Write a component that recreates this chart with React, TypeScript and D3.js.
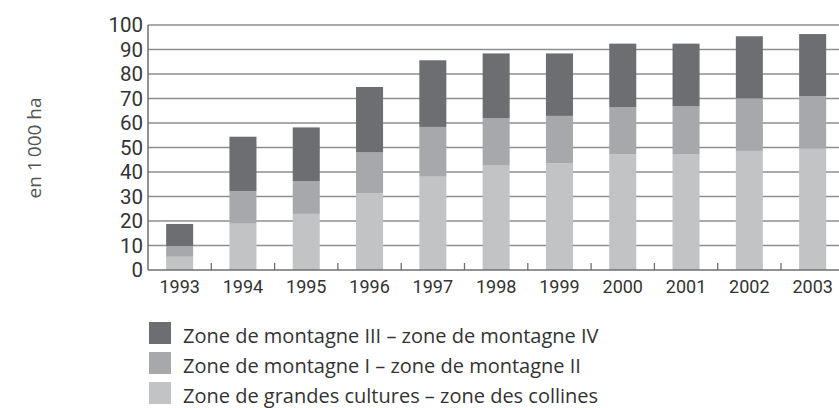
import React from 'react';
import * as d3 from 'd3';

const years = ['1993', '1994', '1995', '1996', '1997', '1998', '1999', '2000', '2001', '2002', '2003'];
const zoneGrandesCultures = [5.4, 18.9, 22.9, 31.3, 38.1, 42.6, 43.5, 47.3, 47.3, 48.6, 49.5];
const zoneMontagneI_II = [4.4, 13.3, 13.3, 16.7, 20.3, 19.3, 19.4, 19.2, 19.5, 21.5, 21.4];
const zoneMontagneIII_IV = [9.0, 22.2, 22.0, 26.7, 27.2, 26.5, 25.5, 25.9, 25.6, 25.3, 25.4];
const yTicks = [0, 10, 20, 30, 40, 50, 60, 70, 80, 90, 100];
const seriesKeys = ['grandes', 'montI', 'montIII'];
const seriesLabels = [
  'Zone de grandes cultures – zone des collines',
  'Zone de montagne I – zone de montagne II',
  'Zone de montagne III – zone de montagne IV',
];
const seriesColors = ['#c2c3c5', '#a6a8ab', '#6d6e71'];
const yTitle = 'en 1\u2009000 ha';

const W = 839;
const H = 408;
const FONT = "'Open Sans', 'Noto Sans', sans-serif";
const TICKFONT = "Roboto, 'Open Sans', sans-serif";

export default function App() {
  const left = 148;
  const step = 63.3;
  const x = d3.scaleBand<string>().domain(years).range([left, left + step * years.length]).paddingInner(0).paddingOuter(0);
  const y = d3.scaleLinear().domain([0, 100]).range([270, 25]);
  const barW = x.bandwidth() * 0.427;

  const table = years.map((yr, i) => ({
    year: yr,
    grandes: zoneGrandesCultures[i],
    montI: zoneMontagneI_II[i],
    montIII: zoneMontagneIII_IV[i],
  }));
  const stacked = d3.stack<any>().keys(seriesKeys)(table);

  const legendOrder = [2, 1, 0];

  return (
    <svg width={W} height={H} style={{ position: 'absolute', left: 0, top: 0, display: 'block', background: '#fff' }}>
      {/* gridlines */}
      {yTicks.filter((t) => t > 0).map((t) => (
        <line key={t} x1={left} x2={W} y1={y(t)} y2={y(t)} stroke="#8e8e8e" strokeWidth={1.4} />
      ))}
      {/* bars */}
      {stacked.map((s, si) => (
        <g key={s.key} fill={seriesColors[si]}>
          {s.map((d, i) => (
            <rect
              key={i}
              x={(x(years[i]) as number) + (x.bandwidth() - barW) / 2}
              y={y(d[1])}
              width={barW}
              height={y(d[0]) - y(d[1])}
            />
          ))}
        </g>
      ))}
      {/* axes */}
      <line x1={left} x2={left} y1={y(100)} y2={y(0)} stroke="#6f6f6f" strokeWidth={1.5} />
      <line x1={left} x2={W} y1={y(0)} y2={y(0)} stroke="#6f6f6f" strokeWidth={1.5} />
      {years.slice(1).map((yr) => (
        <line key={yr} x1={x(yr)} x2={x(yr)} y1={y(0)} y2={y(0) - 7} stroke="#6f6f6f" strokeWidth={1.3} />
      ))}
      {/* y tick labels */}
      {yTicks.map((t) => (
        <text key={t} x={left - 5} y={y(t)} dy="0.36em" textAnchor="end" fontFamily={TICKFONT} fontSize={20.5} fill="#333">
          {t}
        </text>
      ))}
      {/* x tick labels */}
      {years.map((yr) => (
        <text key={yr} x={(x(yr) as number) + x.bandwidth() / 2} y={293} textAnchor="middle" fontFamily={TICKFONT} fontSize={18} fill="#333">
          {yr}
        </text>
      ))}
      {/* y title */}
      <text transform={`translate(41,148) rotate(-90)`} textAnchor="middle" fontFamily={FONT} fontSize={19} fill="#555">
        {yTitle}
      </text>
      {/* legend */}
      {legendOrder.map((si, k) => (
        <g key={si} transform={`translate(149,${322 + k * 30})`}>
          <rect x={0} y={0} width={22} height={22} fill={seriesColors[si]} />
          <text x={34} y={21} fontFamily={FONT} fontSize={20} fill="#333">
            {seriesLabels[si]}
          </text>
        </g>
      ))}
    </svg>
  );
}
